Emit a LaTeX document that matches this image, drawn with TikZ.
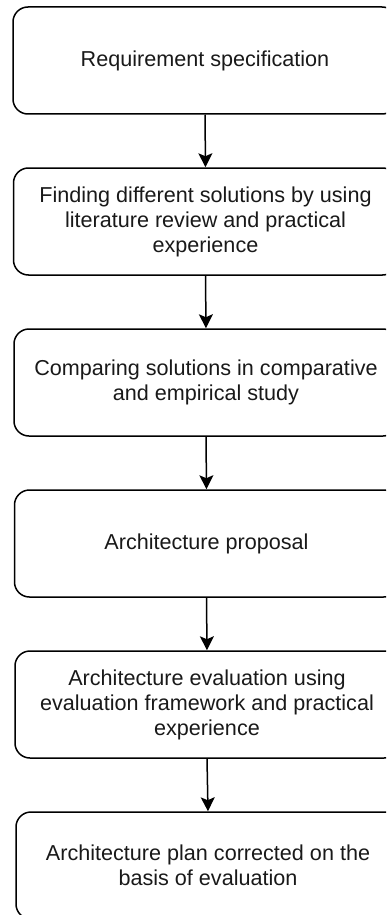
\documentclass[tikz,border=0pt]{standalone}
\usepackage{fontspec}
\setmainfont{Liberation Sans}
\usetikzlibrary{arrows.meta}
\begin{document}
\begin{tikzpicture}[x=1pt,y=-1pt,
  stepbox/.style={draw=black, line width=1.5pt, rounded corners=15pt,
    minimum width=384pt, minimum height=107pt, inner sep=0pt,
    align=center, text=black!90,
    font=\fontsize{21.6}{25}\selectfont},
  flow/.style={draw=black, line width=1.5pt,
    -{Stealth[length=14pt,width=14pt,inset=3pt]}}]
  \useasboundingbox (0,0) rectangle (386,915);
  \clip (0,0) rectangle (386,915);

  \node[stepbox] (req)  at (205,60.5)  {Requirement specification};
  \node[stepbox] (find) at (205.5,221.5) {Finding different solutions by using\\literature review and practical\\experience};
  \node[stepbox] (comp) at (206,382.5) {Comparing solutions in comparative\\and empirical study};
  \node[stepbox] (prop) at (206.5,543.5) {Architecture proposal};
  \node[stepbox] (eval) at (207,704.5) {Architecture evaluation using\\evaluation framework and practical\\experience};
  \node[stepbox] (plan) at (208,865.5) {Architecture plan corrected on the\\basis of evaluation};

  \draw[flow] (req.south)  -- (find.north);
  \draw[flow] (find.south) -- (comp.north);
  \draw[flow] (comp.south) -- (prop.north);
  \draw[flow] (prop.south) -- (eval.north);
  \draw[flow] (eval.south) -- (plan.north);
\end{tikzpicture}
\end{document}
